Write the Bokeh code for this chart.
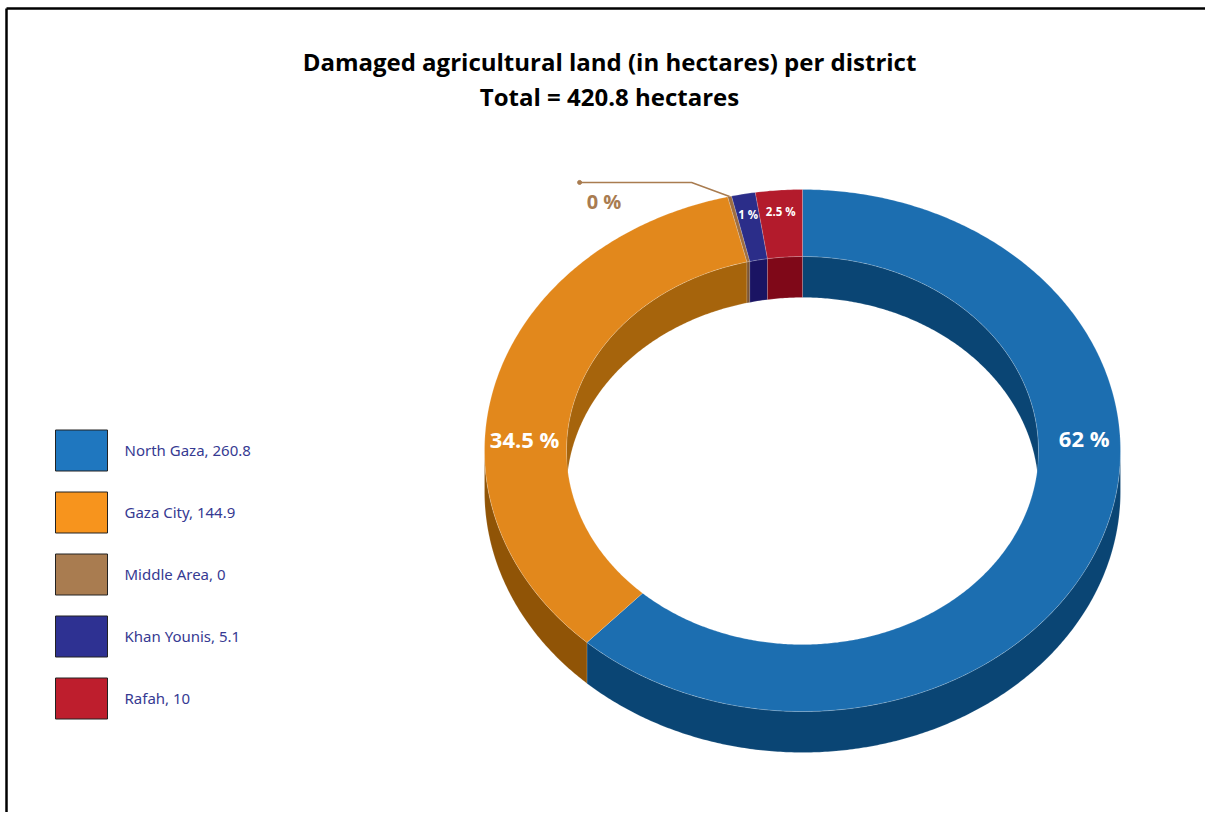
import numpy as np
from bokeh.plotting import figure
from bokeh.models import Range1d, ColumnDataSource
from bokeh.core.properties import value
from bokeh.embed import file_html
from bokeh.resources import INLINE

# ---------------- data ----------------
title_line1 = "Damaged agricultural land (in hectares) per district"
title_line2 = "Total = 420.8 hectares"
districts = ["North Gaza", "Gaza City", "Middle Area", "Khan Younis", "Rafah"]
hectares = [260.8, 144.9, 0, 5.1, 10]
pct_labels = ["62 %", "34.5 %", "0  %", "1 %", "2.5 %"]

# ---------------- styles ----------------
legend_colors = ["#1f77bf", "#f7941d", "#a97c50", "#2e3192", "#be1e2d"]
top_colors = ["#1c6eb0", "#e2881c", "#9f6e40", "#2b2d89", "#b31b2c"]
outer_wall_colors = ["#0a4574", "#905406", "#7a5230", "#1a1463", "#7f0818"]
inner_wall_colors = ["#0a4574", "#a6640c", "#7d5533", "#1a1463", "#7f0818"]
label_mode = ["large", "large", "callout", "small", "small"]
label_angle_override = [87, 273, None, None, None]
label_radius_factor = [0.887, 0.875, 1.0, 0.92, 0.92]

CX, CY = 802, 450
RX, RY = 318, 261
IRX, IRY = 236, 194
DEPTH = 41
MIN_FRAC = 0.002
FONT = "Open Sans"

W, H = 1205, 812
p = figure(width=W, height=H, x_range=Range1d(0, W), y_range=Range1d(H, 0),
           output_backend="svg", toolbar_location=None, min_border=0,
           x_axis_location=None, y_axis_location=None)
p.xgrid.visible = False
p.ygrid.visible = False
p.outline_line_color = None
p.background_fill_color = "white"
p.border_fill_color = "white"

# ---------------- pie geometry ----------------
total = float(sum(hectares))
fracs = np.array([max(v / total, MIN_FRAC) for v in hectares])
fracs = fracs / fracs.sum()
ends = np.cumsum(fracs) * 360.0
starts = np.concatenate([[0.0], ends[:-1]])


def arc(t0, t1, rx, ry, dy=0.0):
    n = max(3, int(abs(t1 - t0) * 2))
    t = np.radians(np.linspace(t0, t1, n))
    return list(CX + rx * np.sin(t)), list(CY - ry * np.cos(t) + dy)


def clip(t0, t1, ranges):
    out = []
    for a, b in ranges:
        lo, hi = max(t0, a), min(t1, b)
        if hi > lo:
            out.append((lo, hi))
    return out


wall_xs, wall_ys, wall_cols = [], [], []
for i in range(len(hectares)):
    # inner wall, back half (seen through the hole)
    for lo, hi in clip(starts[i], ends[i], [(0, 90), (270, 360)]):
        x1, y1 = arc(lo, hi, IRX, IRY)
        x2, y2 = arc(hi, lo, IRX, IRY, DEPTH)
        wall_xs.append(x1 + x2); wall_ys.append(y1 + y2); wall_cols.append(inner_wall_colors[i])
    # outer wall, front half
    for lo, hi in clip(starts[i], ends[i], [(90, 270)]):
        x1, y1 = arc(lo, hi, RX, RY)
        x2, y2 = arc(hi, lo, RX, RY, DEPTH)
        wall_xs.append(x1 + x2); wall_ys.append(y1 + y2); wall_cols.append(outer_wall_colors[i])

p.patches("xs", "ys", source=ColumnDataSource(dict(xs=wall_xs, ys=wall_ys, c=wall_cols)),
          fill_color="c", line_color="white", line_alpha=0.25, line_width=0.6)

top_xs, top_ys = [], []
for i in range(len(hectares)):
    x1, y1 = arc(starts[i], ends[i], RX, RY)
    x2, y2 = arc(ends[i], starts[i], IRX, IRY)
    top_xs.append(x1 + x2); top_ys.append(y1 + y2)
p.patches("xs", "ys", source=ColumnDataSource(dict(xs=top_xs, ys=top_ys, c=top_colors)),
          fill_color="c", line_color="white", line_alpha=0.3, line_width=0.6)

# ---------------- slice labels ----------------
for i in range(len(hectares)):
    mid = (starts[i] + ends[i]) / 2
    ang = label_angle_override[i] if label_angle_override[i] is not None else mid
    t = np.radians(ang)
    if label_mode[i] == "callout":
        ax = CX + RX * np.sin(t)
        ay = CY - RY * np.cos(t)
        ex, ey = ax - 38, ay - 14
        dx = ex - 112
        p.line([dx, ex, ax], [ey, ey, ay], line_color=legend_colors[i], line_width=1.5)
        p.scatter([dx], [ey], size=4, color=legend_colors[i])
        p.text([dx + 27], [ey + 19], text=[pct_labels[i]], text_color=legend_colors[i],
               text_font=value(FONT), text_font_style="bold", text_font_size="20px",
               text_align="center", text_baseline="middle")
    else:
        f = label_radius_factor[i]
        lx = CX + RX * f * np.sin(t)
        ly = CY - RY * f * np.cos(t)
        if label_mode[i] == "large":
            p.text([lx], [ly], text=[pct_labels[i]], text_color="white",
                   text_font=value(FONT), text_font_style="bold", text_font_size="22px",
                   text_align="center", text_baseline="middle")
        else:
            p.text([lx], [ly], text=[pct_labels[i]], text_color="white",
                   text_font=value(FONT), text_font_style="bold", text_font_size="11.5px",
                   text_align="center", text_baseline="middle")

# ---------------- title ----------------
p.text([609], [61], text=[title_line1], text_color="black", text_font=value(FONT),
       text_font_style="bold", text_font_size="24px", text_align="center", text_baseline="middle")
p.text([609], [96], text=[title_line2], text_color="black", text_font=value(FONT),
       text_font_style="bold", text_font_size="24px", text_align="center", text_baseline="middle")

# ---------------- legend ----------------
ly0, lstep = 450, 62
leg_y = [ly0 + lstep * i for i in range(len(districts))]
leg_text = [f"{d}, {v:g}" for d, v in zip(districts, hectares)]
p.rect([81] * len(districts), leg_y, width=52, height=41, fill_color=legend_colors,
       line_color="#222222", line_width=1)
p.text([124] * len(districts), [y - 1 for y in leg_y], text=leg_text, text_color="#363a92",
       text_font=value("Noto Sans"), text_font_size="15px", text_align="left",
       text_baseline="middle")

# ---------------- frame border (top + left) ----------------
p.line([6, W], [8, 8], line_color="black", line_width=2.5)
p.line([6, 6], [8, H], line_color="black", line_width=2.5)

open("out.html", "w").write(file_html(p, INLINE))
